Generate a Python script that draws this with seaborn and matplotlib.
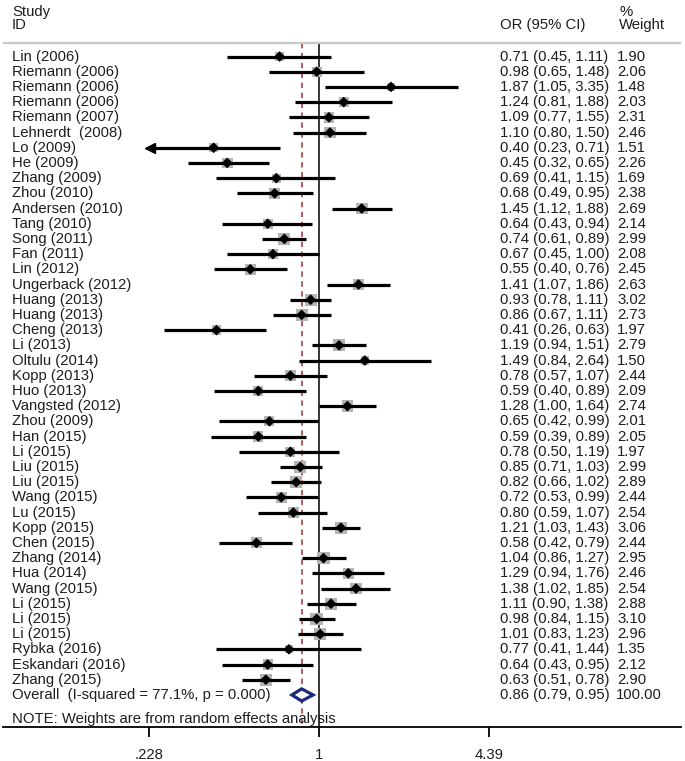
import numpy as np
import pandas as pd
import matplotlib
matplotlib.use("Agg")
import matplotlib.pyplot as plt
import seaborn as sns

# forest plot: OR (95% CI) per study, random effects weights

studies = ["Lin (2006)", "Riemann (2006)", "Riemann (2006)", "Riemann (2006)", "Riemann (2007)",
           "Lehnerdt  (2008)", "Lo (2009)", "He (2009)", "Zhang (2009)", "Zhou (2010)",
           "Andersen (2010)", "Tang (2010)", "Song (2011)", "Fan (2011)", "Lin (2012)",
           "Ungerback (2012)", "Huang (2013)", "Huang (2013)", "Cheng (2013)", "Li (2013)",
           "Oltulu (2014)", "Kopp (2013)", "Huo (2013)", "Vangsted (2012)", "Zhou (2009)",
           "Han (2015)", "Li (2015)", "Liu (2015)", "Liu (2015)", "Wang (2015)",
           "Lu (2015)", "Kopp (2015)", "Chen (2015)", "Zhang (2014)", "Hua (2014)",
           "Wang (2015)", "Li (2015)", "Li (2015)", "Li (2015)", "Rybka (2016)",
           "Eskandari (2016)", "Zhang (2015)"]
odds = [0.71, 0.98, 1.87, 1.24, 1.09, 1.10, 0.40, 0.45, 0.69, 0.68,
        1.45, 0.64, 0.74, 0.67, 0.55, 1.41, 0.93, 0.86, 0.41, 1.19,
        1.49, 0.78, 0.59, 1.28, 0.65, 0.59, 0.78, 0.85, 0.82, 0.72,
        0.80, 1.21, 0.58, 1.04, 1.29, 1.38, 1.11, 0.98, 1.01, 0.77,
        0.64, 0.63]
ci_low = [0.45, 0.65, 1.05, 0.81, 0.77, 0.80, 0.23, 0.32, 0.41, 0.49,
          1.12, 0.43, 0.61, 0.45, 0.40, 1.07, 0.78, 0.67, 0.26, 0.94,
          0.84, 0.57, 0.40, 1.00, 0.42, 0.39, 0.50, 0.71, 0.66, 0.53,
          0.59, 1.03, 0.42, 0.86, 0.94, 1.02, 0.90, 0.84, 0.83, 0.41,
          0.43, 0.51]
ci_high = [1.11, 1.48, 3.35, 1.88, 1.55, 1.50, 0.71, 0.65, 1.15, 0.95,
           1.88, 0.94, 0.89, 1.00, 0.76, 1.86, 1.11, 1.11, 0.63, 1.51,
           2.64, 1.07, 0.89, 1.64, 0.99, 0.89, 1.19, 1.03, 1.02, 0.99,
           1.07, 1.43, 0.79, 1.27, 1.76, 1.85, 1.38, 1.15, 1.23, 1.44,
           0.95, 0.78]
weights = [1.90, 2.06, 1.48, 2.03, 2.31, 2.46, 1.51, 2.26, 1.69, 2.38,
           2.69, 2.14, 2.99, 2.08, 2.45, 2.63, 3.02, 2.73, 1.97, 2.79,
           1.50, 2.44, 2.09, 2.74, 2.01, 2.05, 1.97, 2.99, 2.89, 2.44,
           2.54, 3.06, 2.44, 2.95, 2.46, 2.54, 2.88, 3.10, 2.96, 1.35,
           2.12, 2.90]

overall_label = "Overall  (I-squared = 77.1%, p = 0.000)"
overall_or = 0.86
overall_low = 0.79
overall_high = 0.95
overall_weight = 100.00

tick_values = [0.228, 1, 4.39]
tick_labels = [".228", "1", "4.39"]

df = pd.DataFrame({"study": studies, "OR": odds, "low": ci_low, "high": ci_high, "weight": weights})
df["row"] = np.arange(len(df))
n = len(df)

sns.set_theme(style="white")
plt.rcParams["font.family"] = ["Liberation Sans", "DejaVu Sans"]
txt = "#1e1e1e"
fs = 10.7

fig = plt.figure(figsize=(6.85, 7.61), dpi=100)
ax = fig.add_axes([3 / 685, 34 / 761, 678 / 685, 727 / 761])

# gray study squares, area ~ weight
sns.scatterplot(data=df, x="OR", y="row", size="weight", sizes=(0, 26 * 3.1), size_norm=(0, 3.1),
                marker="s", color="#b4b4b4", edgecolor="none", legend=False, ax=ax, zorder=2)
# confidence intervals
ax.hlines(df["row"], df["low"], df["high"], color="black", lw=2.3, zorder=3)
# point estimates
sns.scatterplot(data=df, x="OR", y="row", marker="D", color="black", s=30, edgecolor="none",
                legend=False, ax=ax, zorder=4)
# arrow where the CI runs off the axis
cut = df[df["low"] <= tick_values[0] * 1.01]
ax.plot(cut["low"], cut["row"], marker="<", ls="none", color="black", ms=6.5, zorder=4)

# overall diamond
orow = n
ax.fill([overall_low, overall_or, overall_high, overall_or],
        [orow, orow - 0.4, orow, orow + 0.4],
        facecolor="white", edgecolor="#1c2a7e", lw=2.3, zorder=5)

top_row = -0.89
ax.axhline(top_row, color="#c8c8c8", lw=1.6)
ax.vlines(1, top_row, 44.11, color="black", lw=1.1, zorder=1)
ax.vlines(overall_or, top_row, 44.11, color="#a03030", lw=1.1, linestyles=(0, (3.5, 3)), zorder=1)

ax.set_xscale("log")
ax.set_xlim(np.exp(-2.748), np.exp(3.148))
ax.set_ylim(44.11, -3.717)
ax.set_xticks(tick_values)
ax.set_xticklabels(tick_labels)
ax.xaxis.set_minor_locator(matplotlib.ticker.NullLocator())
ax.set_yticks([])
ax.set_xlabel("")
ax.set_ylabel("")
ax.tick_params(axis="x", direction="out", length=7, width=1.3, pad=8, labelsize=fs,
               colors="black", labelcolor=txt, bottom=True)
for s in ["top", "left", "right"]:
    ax.spines[s].set_visible(False)
ax.spines["bottom"].set_color("black")
ax.spines["bottom"].set_linewidth(1.3)

tr = ax.get_yaxis_transform()
fx = lambda px: (px - 3) / 678

# headers
ax.text(fx(12), -2.93, "Study", transform=tr, fontsize=fs, color=txt, va="center")
ax.text(fx(12), -2.07, "ID", transform=tr, fontsize=fs, color=txt, va="center")
ax.text(fx(500), -2.07, "OR (95% CI)", transform=tr, fontsize=fs, color=txt, va="center")
ax.text(fx(619), -2.93, "%", transform=tr, fontsize=fs, color=txt, va="center")
ax.text(fx(619), -2.07, "Weight", transform=tr, fontsize=fs, color=txt, va="center")

for r in df.itertuples():
    ax.text(fx(12), r.row, r.study, transform=tr, fontsize=fs, color=txt, va="center")
    ax.text(fx(500), r.row, f"{r.OR:.2f} ({r.low:.2f}, {r.high:.2f})", transform=tr,
            fontsize=fs, color=txt, va="center")
    ax.text(fx(617), r.row, f"{r.weight:.2f}", transform=tr, fontsize=fs, color=txt, va="center")

ax.text(fx(12), orow, overall_label, transform=tr, fontsize=fs, color=txt, va="center")
ax.text(fx(500), orow, f"{overall_or:.2f} ({overall_low:.2f}, {overall_high:.2f})", transform=tr,
        fontsize=fs, color=txt, va="center")
ax.text(fx(616), orow, f"{overall_weight:.2f}", transform=tr, fontsize=fs, color=txt, va="center")
ax.text(fx(12), 43.6, "NOTE: Weights are from random effects analysis", transform=tr,
        fontsize=fs, color=txt, va="center")

fig.savefig("out.png", dpi=100)
